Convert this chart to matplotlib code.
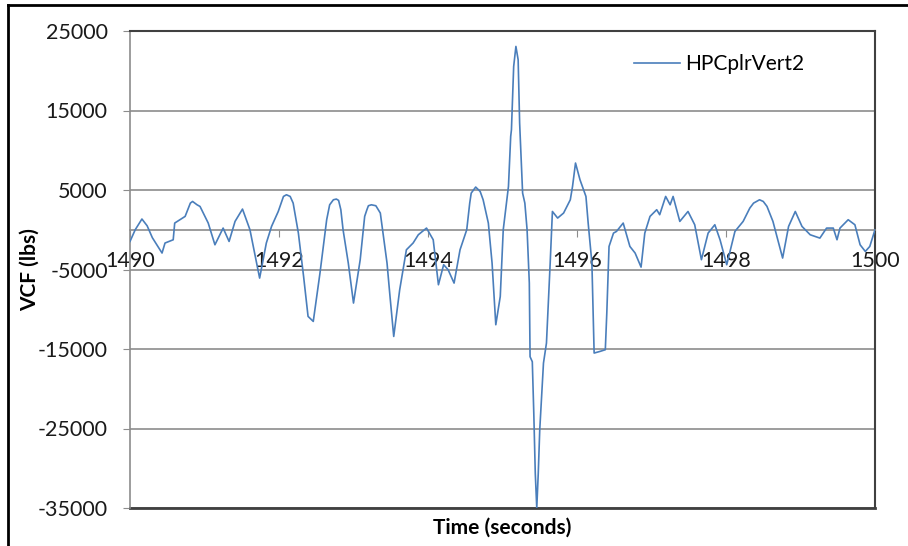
"""
Recreate the HPCplrVert2 vertical coupler force trace (Excel style chart).
"""

import matplotlib

matplotlib.use("Agg")
import matplotlib.pyplot as plt  # noqa: E402
from matplotlib.lines import Line2D  # noqa: E402

# time (s) and vertical coupler force (lbs)
time_s = [
    1490.00, 1490.07, 1490.16, 1490.23, 1490.30, 1490.43, 1490.47, 1490.58,
    1490.60, 1490.74, 1490.81, 1490.84, 1490.90, 1490.94, 1491.05, 1491.14,
    1491.25, 1491.33, 1491.41, 1491.51, 1491.61, 1491.74, 1491.83, 1491.90,
    1491.99, 1492.06, 1492.10, 1492.15, 1492.19, 1492.26, 1492.33, 1492.39,
    1492.46, 1492.55, 1492.64, 1492.68, 1492.73, 1492.77, 1492.80, 1492.83,
    1492.86, 1492.93, 1493.00, 1493.09, 1493.15, 1493.18, 1493.20, 1493.24,
    1493.30, 1493.36, 1493.45, 1493.49, 1493.54, 1493.62, 1493.71, 1493.80,
    1493.87, 1493.98, 1494.07, 1494.14, 1494.21, 1494.27, 1494.35, 1494.39,
    1494.43, 1494.52, 1494.56, 1494.58, 1494.64, 1494.70, 1494.74, 1494.81,
    1494.86, 1494.91, 1494.97, 1495.01, 1495.08, 1495.11, 1495.12, 1495.15,
    1495.18, 1495.21, 1495.23, 1495.27, 1495.30, 1495.33, 1495.36, 1495.37,
    1495.40, 1495.42, 1495.44, 1495.46, 1495.48, 1495.50, 1495.55, 1495.59,
    1495.64, 1495.67, 1495.74, 1495.82, 1495.91, 1495.94, 1495.98, 1496.04,
    1496.12, 1496.15, 1496.20, 1496.23, 1496.31, 1496.38, 1496.40, 1496.43,
    1496.49, 1496.53, 1496.62, 1496.71, 1496.78, 1496.86, 1496.91, 1496.98,
    1497.07, 1497.11, 1497.19, 1497.25, 1497.29, 1497.38, 1497.49, 1497.58,
    1497.67, 1497.76, 1497.85, 1497.92, 1498.01, 1498.12, 1498.23, 1498.32,
    1498.37, 1498.45, 1498.50, 1498.55, 1498.63, 1498.76, 1498.84, 1498.93,
    1499.02, 1499.13, 1499.26, 1499.35, 1499.44, 1499.49, 1499.53, 1499.64,
    1499.73, 1499.80, 1499.87, 1499.93, 1500.00,
]
vcf_lbs = [
    -1470, 0, 1350, 500, -1000, -2930, -1670, -1260,
    840, 1680, 3350, 3560, 3140, 2930, 840, -1890,
    210, -1470, 1050, 2600, 0, -6080, -1670, 420,
    2300, 4190, 4400, 4190, 3350, -420, -5870, -10900,
    -11530, -5450, 1260, 3140, 3770, 3860, 3690, 2520,
    0, -4190, -9220, -3770, 1680, 2520, 3020, 3140,
    3020, 2100, -4190, -8390, -13420, -7550, -2520, -1670,
    -630, 210, -1260, -6920, -4400, -5030, -6710, -4610,
    -2520, 0, 3350, 4610, 5370, 4820, 3770, 840,
    -4190, -11950, -8390, 0, 5450, 11740, 12580, 20540,
    23060, 21380, 13420, 4610, 3350, 0, -6710, -15970,
    -16600, -23060, -30630, -35000, -30630, -25160, -16770, -14260,
    -4190, 2300, 1470, 2100, 3770, 5450, 8390, 6290,
    4190, 840, -4190, -15510, -15300, -15090, -10480, -2100,
    -420, -210, 840, -2100, -2930, -4700, -420, 1680,
    2520, 1890, 4190, 3140, 4190, 1050, 2300, 630,
    -3770, -420, 630, -1260, -4400, -210, 1050, 2730,
    3350, 3770, 3560, 2940, 1050, -3560, 420, 2300,
    420, -630, -1050, 210, 210, -1260, 210, 1260,
    630, -1890, -2730, -2100, 0,
]
x_ticks = [1490, 1492, 1494, 1496, 1498, 1500]
y_ticks = [-35000, -25000, -15000, -5000, 5000, 15000, 25000]

FONT = "Lato"
GRID = "#8c8c8c"
BORDER = "#404040"

plt.rcParams["font.family"] = [FONT, "DejaVu Sans"]
plt.rcParams["axes.unicode_minus"] = False

fig = plt.figure(figsize=(9.08, 5.46), dpi=100)
ax = fig.add_axes([130 / 908, 1 - 508 / 546, 745 / 908, 477 / 546])

ax.plot(time_s, vcf_lbs, color="#4a7ebb", linewidth=1.2, label="HPCplrVert2", zorder=3)

ax.set_xlim(1490, 1500)
ax.set_ylim(-35000, 25000)
ax.set_xticks(x_ticks)
ax.set_yticks(y_ticks)
ax.yaxis.grid(True, color=GRID, linewidth=1.2)
ax.set_axisbelow(True)

# Excel style: category axis crosses at zero, plot area framed in dark grey
ax.spines["bottom"].set_position(("data", 0))
ax.spines["bottom"].set_color(GRID)
ax.spines["bottom"].set_linewidth(1.2)
ax.spines["left"].set_color(GRID)
ax.spines["left"].set_linewidth(1.2)
for side in ("top", "right"):
    ax.spines[side].set_color(BORDER)
    ax.spines[side].set_linewidth(1.5)
ax.plot([0, 1], [0, 0], transform=ax.transAxes, color=BORDER, linewidth=2.0, clip_on=False)

ax.tick_params(axis="both", direction="out", color=GRID, labelsize=15.5, labelcolor="#1a1a1a")
ax.tick_params(axis="x", length=5, pad=10)
ax.tick_params(axis="y", length=5, pad=11)

ax.set_xlabel("Time (seconds)", fontsize=15, fontweight="bold")
ax.xaxis.set_label_coords(0.5, -0.02)
ax.set_ylabel("VCF (lbs)", fontsize=15, fontweight="bold")
ax.yaxis.set_label_coords(-0.121, 0.5)

ax.legend(
    loc="center left", bbox_to_anchor=(634 / 908, 1 - 64 / 546), bbox_transform=fig.transFigure,
    frameon=False, fontsize=15, handlelength=2.2, handletextpad=0.25, borderpad=0, borderaxespad=0,
)

# outer chart frame (only top and left edges are visible in the reference)
fig.add_artist(Line2D([8 / 908, 1], [1 - 5 / 546, 1 - 5 / 546], color="black", linewidth=2))
fig.add_artist(Line2D([8 / 908, 8 / 908], [0, 1 - 5 / 546], color="black", linewidth=2))

fig.savefig("out.png", dpi=100)
plt.close(fig)
